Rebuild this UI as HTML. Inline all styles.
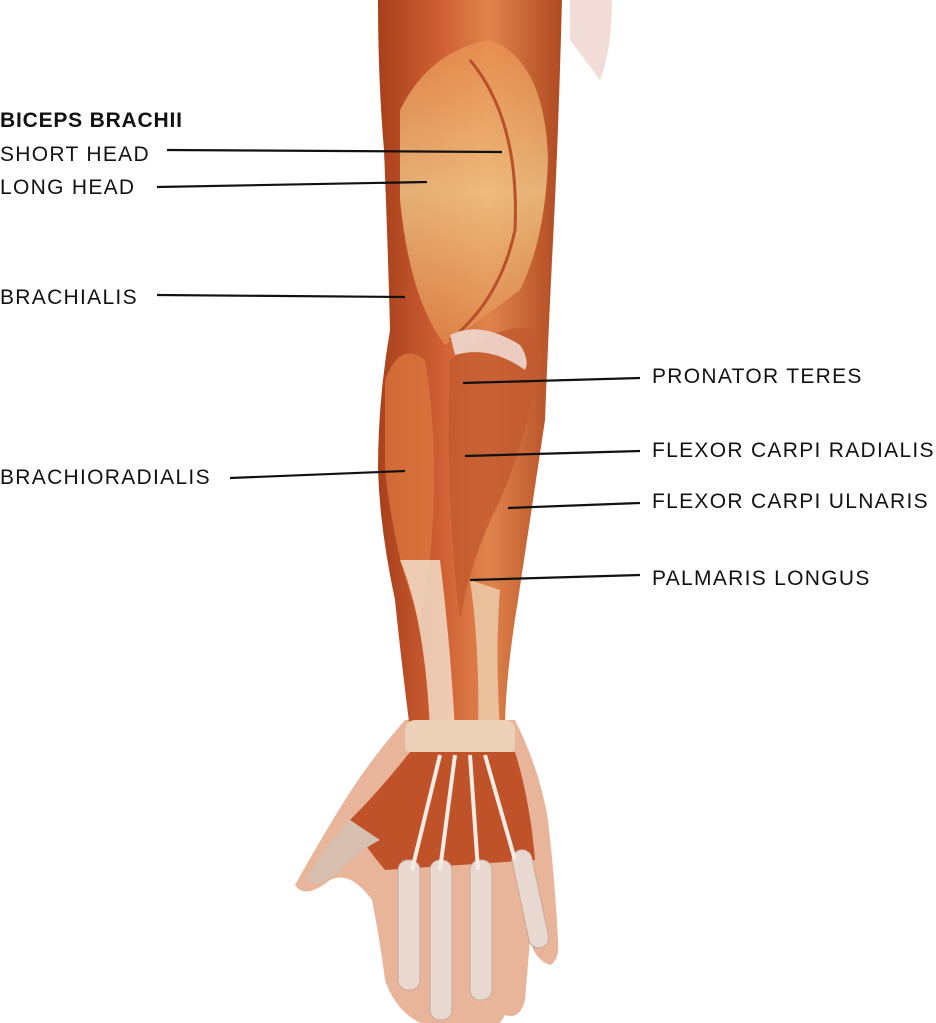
<!DOCTYPE html>
<html><head><meta charset="utf-8"><style>
html,body{margin:0;padding:0;background:#fff;}
body{width:936px;height:1023px;overflow:hidden;position:relative;font-family:"Liberation Sans",sans-serif;}
.l{position:absolute;font-size:21px;color:#111;letter-spacing:1.3px;white-space:nowrap;line-height:22px;}
</style></head><body>
<svg width="936" height="1023" style="position:absolute;left:0;top:0">
<defs>
<linearGradient id="g1" x1="0" x2="1" y1="0" y2="0">
<stop offset="0" stop-color="#a8401c"/><stop offset="0.35" stop-color="#d06034"/><stop offset="0.6" stop-color="#e0844c"/><stop offset="1" stop-color="#b04a22"/></linearGradient>
<linearGradient id="g2" x1="0" x2="0" y1="0" y2="1">
<stop offset="0" stop-color="#e89050"/><stop offset="0.5" stop-color="#f0c888"/><stop offset="1" stop-color="#e0884a"/></linearGradient>
</defs>
<path d="M570,0 L612,0 Q612,50 600,80 Q585,60 570,40 Z" fill="#f2dcd8"/>
<path d="M405,720 L515,720 Q540,770 548,820 Q555,880 558,940 Q560,960 550,965 Q535,960 530,940 L525,1000 Q520,1020 505,1015 L500,1023 L420,1023 Q395,1010 385,980 Q380,940 372,900 Q350,870 330,880 Q305,900 295,885 Q320,840 345,800 Q370,760 405,720 Z" fill="#e8b49a"/>
<path d="M378,0 L562,0 Q558,150 552,260 Q548,340 545,420 Q530,520 518,600 Q505,680 505,730 L410,730 Q400,650 395,600 Q380,530 378,470 Q378,400 390,330 Q388,250 384,150 Q378,80 378,0 Z" fill="url(#g1)"/>
<path d="M400,110 Q430,50 490,40 Q545,60 548,160 Q545,240 520,290 Q480,320 445,345 Q410,300 400,200 Z" fill="url(#g2)" opacity="0.8"/>
<path d="M470,60 Q520,120 515,230 Q500,300 450,340" fill="none" stroke="#b8502a" stroke-width="3"/>
<path d="M385,380 Q400,340 425,360 Q440,450 430,560 L420,620 Q395,560 385,470 Z" fill="#e07a40" opacity="0.7"/>
<path d="M450,360 Q500,320 540,330 Q535,420 500,500 Q470,560 460,620 Q445,500 450,360 Z" fill="#c25a2e" opacity="0.8"/>
<path d="M450,335 Q480,320 520,345 Q530,360 525,370 Q490,345 455,355 Z" fill="#f0d8d0" opacity="0.9"/>
<path d="M400,560 Q425,620 430,730 L455,730 Q450,640 440,560 Z" fill="#f4e4d0" opacity="0.8"/>
<path d="M470,580 Q480,650 478,730 L500,730 Q495,650 500,590 Z" fill="#f0dcc0" opacity="0.7"/>
<rect x="405" y="720" width="110" height="35" rx="10" fill="#ecd0b8"/>
<path d="M410,752 L515,752 Q530,800 535,860 L385,870 Q360,840 350,820 Q380,790 410,752 Z" fill="#c0522a"/>
<path d="M350,820 Q330,840 305,880 Q320,890 340,870 Q360,850 380,840 Z" fill="#d8c0b0"/>
<g fill="#e8d8d0" stroke="#c8a898" stroke-width="1">
<rect x="398" y="860" width="22" height="130" rx="10"/>
<rect x="430" y="860" width="22" height="160" rx="10"/>
<rect x="470" y="860" width="22" height="140" rx="10"/>
<rect x="510" y="850" width="20" height="100" rx="10" transform="rotate(-12 520 850)"/>
</g>
<g stroke="#f4ece4" stroke-width="4" fill="none">
<path d="M440,755 L412,870"/><path d="M455,755 L440,870"/><path d="M470,755 L478,870"/><path d="M485,755 L515,860"/>
</g>
<g stroke="#111" stroke-width="2.2">
<line x1="167" y1="150" x2="502" y2="152"/>
<line x1="157" y1="187" x2="427" y2="182"/>
<line x1="157" y1="295" x2="405" y2="297"/>
<line x1="230" y1="478" x2="405" y2="471"/>
<line x1="463" y1="383" x2="640" y2="378"/>
<line x1="465" y1="456" x2="640" y2="451"/>
<line x1="508" y1="508" x2="640" y2="503"/>
<line x1="470" y1="580" x2="640" y2="575"/>
</g>
</svg>
<div class="l" style="left:0;top:110px;font-weight:bold;letter-spacing:0.8px">BICEPS BRACHII</div>
<div class="l" style="left:0;top:144px">SHORT HEAD</div>
<div class="l" style="left:0;top:177px">LONG HEAD</div>
<div class="l" style="left:0;top:287px">BRACHIALIS</div>
<div class="l" style="left:0;top:467px">BRACHIORADIALIS</div>
<div class="l" style="left:652px;top:366px">PRONATOR TERES</div>
<div class="l" style="left:652px;top:440px">FLEXOR CARPI RADIALIS</div>
<div class="l" style="left:652px;top:491px">FLEXOR CARPI ULNARIS</div>
<div class="l" style="left:652px;top:568px">PALMARIS LONGUS</div>
</body></html>
